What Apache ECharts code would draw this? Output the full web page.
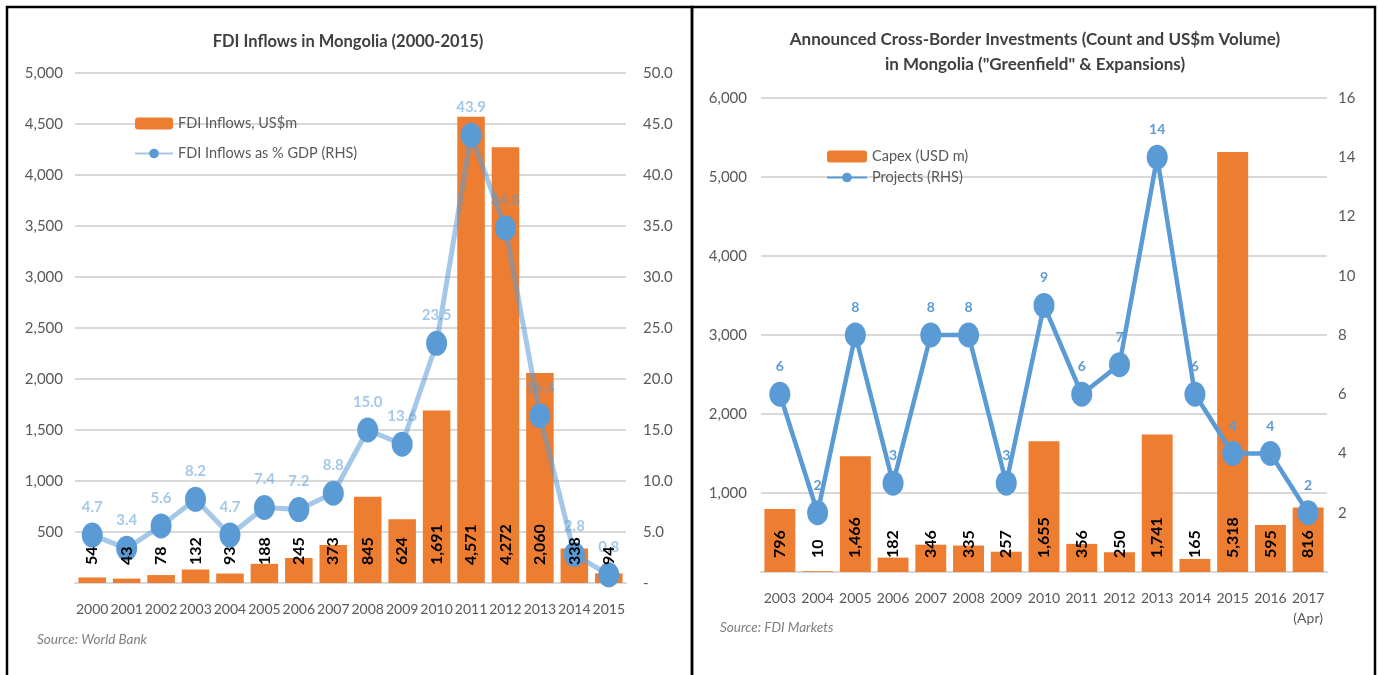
<!DOCTYPE html>
<html>
<head>
<meta charset="utf-8">
<title>Mongolia FDI</title>
<script src="https://cdn.jsdelivr.net/npm/echarts@6/dist/echarts.min.js"></script>
<style>
  html, body { margin: 0; padding: 0; background: #fff; }
  #chart { width: 1378px; height: 675px; }
</style>
</head>
<body>
<div id="chart"></div>
<script>
// left panel: World Bank FDI inflows
var fdiYears = ['2000', '2001', '2002', '2003', '2004', '2005', '2006', '2007',
  '2008', '2009', '2010', '2011', '2012', '2013', '2014', '2015'];
var fdiInflows = [54, 43, 78, 132, 93, 188, 245, 373, 845, 624, 1691, 4571, 4272, 2060, 338, 94];
var fdiGdpShare = [4.7, 3.4, 5.6, 8.2, 4.7, 7.4, 7.2, 8.8, 15.0, 13.6, 23.5, 43.9, 34.8, 16.4, 2.8, 0.8];

// right panel: fDi Markets greenfield announcements
var gfYears = ['2003', '2004', '2005', '2006', '2007', '2008', '2009', '2010',
  '2011', '2012', '2013', '2014', '2015', '2016', '2017\n(Apr)'];
var gfCapex = [796, 10, 1466, 182, 346, 335, 257, 1655, 356, 250, 1741, 165, 5318, 595, 816];
var gfProjects = [6, 2, 8, 3, 8, 8, 3, 9, 6, 7, 14, 6, 4, 4, 2];

var FONT = 'Lato';
var ORANGE = '#ED7D31';
var BLUE = '#5B9BD5';
var GREY = '#595959';

function fmt(n) {
  return Number(n).toLocaleString('en-US');
}

function valueAxis(grid, pos, max, step, formatter, split, margin) {
  return {
    type: 'value',
    gridIndex: grid,
    position: pos,
    min: 0,
    max: max,
    interval: step,
    axisLine: { show: false },
    axisTick: { show: false },
    splitLine: { show: split, lineStyle: { color: '#d9d9d9', width: 2 } },
    axisLabel: { color: GREY, fontFamily: FONT, fontSize: 15, margin: margin, formatter: formatter }
  };
}

function catAxis(grid, data, margin) {
  return {
    type: 'category',
    gridIndex: grid,
    data: data,
    axisLine: { lineStyle: { color: '#d9d9d9', width: 2 } },
    axisTick: { show: false },
    axisLabel: { interval: 0, color: GREY, fontFamily: FONT, fontSize: 14, margin: margin, lineHeight: 20 }
  };
}

// the numbers written up the bars sit on top of the line markers,
// so they go on an invisible copy of the bars drawn last
function barLabels(xi, yi, data, width, dist) {
  return {
    type: 'bar',
    xAxisIndex: xi,
    yAxisIndex: yi,
    barWidth: width,
    barGap: '-100%',
    z: 5,
    silent: true,
    data: data,
    itemStyle: { color: 'rgba(0,0,0,0)' },
    label: {
      show: true, position: 'insideBottom', distance: dist, rotate: 90,
      align: 'left', verticalAlign: 'middle',
      color: '#000', fontFamily: FONT, fontSize: 16, fontWeight: 'bold',
      formatter: function (p) { return fmt(p.value); }
    }
  };
}

var chart = echarts.init(document.getElementById('chart'));

var option = {
  animation: false,
  graphic: [
    { type: 'rect', shape: { x: 7, y: 7, width: 685, height: 680 }, style: { fill: 'none', stroke: '#000', lineWidth: 2.5 } },
    { type: 'rect', shape: { x: 692, y: 7, width: 683, height: 680 }, style: { fill: 'none', stroke: '#000', lineWidth: 2.5 } },
    { type: 'text', x: 348, y: 42, style: { text: 'FDI Inflows in Mongolia (2000-2015)', fill: '#404040', font: 'bold 16.5px ' + FONT, textAlign: 'center', textVerticalAlign: 'middle' } },
    { type: 'text', x: 1035, y: 40, style: { text: 'Announced Cross-Border Investments (Count and US$m Volume)', fill: '#404040', font: 'bold 17px ' + FONT, textAlign: 'center', textVerticalAlign: 'middle' } },
    { type: 'text', x: 1035, y: 65, style: { text: 'in Mongolia ("Greenfield" & Expansions)', fill: '#404040', font: 'bold 17px ' + FONT, textAlign: 'center', textVerticalAlign: 'middle' } },
    { type: 'text', x: 37, y: 640, style: { text: 'Source: World Bank', fill: '#7f7f7f', font: 'italic 13.5px ' + FONT, textVerticalAlign: 'middle' } },
    { type: 'text', x: 720, y: 628, style: { text: 'Source: FDI Markets', fill: '#7f7f7f', font: 'italic 13.5px ' + FONT, textVerticalAlign: 'middle' } }
  ],
  legend: [
    {
      orient: 'vertical', left: 129, top: 111, itemWidth: 38, itemHeight: 12, itemGap: 15,
      data: ['FDI Inflows, US$m', 'FDI Inflows as % GDP (RHS)'],
      textStyle: { color: GREY, fontFamily: FONT, fontSize: 14.5 }
    },
    {
      orient: 'vertical', left: 821, top: 144, itemWidth: 40, itemHeight: 12, itemGap: 6,
      data: ['Capex (USD m)', 'Projects (RHS)'],
      textStyle: { color: GREY, fontFamily: FONT, fontSize: 14.5 }
    }
  ],
  grid: [
    { left: 75, right: 752, top: 73, bottom: 92 },
    { left: 761, right: 51, top: 98, bottom: 103 }
  ],
  xAxis: [
    catAxis(0, fdiYears, 16),
    catAxis(1, gfYears, 16)
  ],
  yAxis: [
    valueAxis(0, 'left', 5000, 500, function (v) { return v === 0 ? '' : fmt(v); }, true, 12),
    valueAxis(0, 'right', 50, 5, function (v) { return v === 0 ? '-' : v.toFixed(1); }, false, 17),
    valueAxis(1, 'left', 6000, 1000, function (v) { return v === 0 ? '' : fmt(v); }, true, 14),
    valueAxis(1, 'right', 16, 2, function (v) { return v === 0 ? '' : v; }, false, 11)
  ],
  series: [
    {
      name: 'FDI Inflows, US$m',
      type: 'bar',
      xAxisIndex: 0,
      yAxisIndex: 0,
      barWidth: '80%',
      data: fdiInflows,
      itemStyle: { color: ORANGE }
    },
    {
      name: 'FDI Inflows as % GDP (RHS)',
      type: 'line',
      xAxisIndex: 0,
      yAxisIndex: 1,
      data: fdiGdpShare,
      symbol: 'circle',
      symbolSize: [21, 25],
      itemStyle: { color: BLUE },
      lineStyle: { color: 'rgba(91,155,213,0.55)', width: 5 },
      label: {
        show: true, position: 'top', distance: 8,
        color: 'rgba(91,155,213,0.55)', fontFamily: FONT, fontSize: 15, fontWeight: 'bold',
        formatter: function (p) { return p.value.toFixed(1); }
      }
    },
    barLabels(0, 0, fdiInflows, '80%', 18),
    {
      name: 'Capex (USD m)',
      type: 'bar',
      xAxisIndex: 1,
      yAxisIndex: 2,
      barWidth: '82%',
      data: gfCapex,
      itemStyle: { color: ORANGE }
    },
    {
      name: 'Projects (RHS)',
      type: 'line',
      xAxisIndex: 1,
      yAxisIndex: 3,
      data: gfProjects,
      symbol: 'circle',
      symbolSize: [21, 25],
      itemStyle: { color: BLUE },
      lineStyle: { color: BLUE, width: 4.5 },
      label: {
        show: true, position: 'top', distance: 8,
        color: BLUE, fontFamily: FONT, fontSize: 14, fontWeight: 'bold'
      }
    },
    barLabels(1, 2, gfCapex, '82%', 14)
  ]
};

chart.setOption(option);
</script>
</body>
</html>
